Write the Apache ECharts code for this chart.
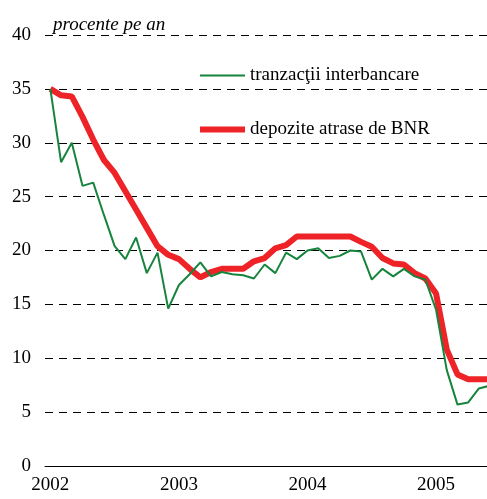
<!DOCTYPE html>
<html>
<head>
<meta charset="utf-8">
<script src="https://cdn.jsdelivr.net/npm/echarts@6/dist/echarts.min.js"></script>
<style>
html, body { margin: 0; padding: 0; background: #fff; }
#main { width: 487px; height: 499px; }
</style>
</head>
<body>
<div id="main"></div>
<script>
// lunile: ian 2002 - iun 2005
const years = [2002, 2003, 2004, 2005];
const months = [];
years.forEach(y => {
    for (let m = 1; m <= 12; m++) {
        if (y === 2005 && m > 6) break;
        months.push(y + '-' + (m < 10 ? '0' + m : m));
    }
});

// rata dobanzii, procente pe an
const interbancare = [35.0, 28.2, 30.0, 26.0, 26.3, 23.3, 20.4, 19.2, 21.2, 17.9, 19.8, 14.6,
    16.8, 17.8, 18.9, 17.6, 18.0, 17.8, 17.7, 17.4, 18.7, 17.9, 19.8, 19.2,
    20.0, 20.2, 19.3, 19.5, 20.0, 19.9, 17.3, 18.3, 17.6, 18.3, 17.6, 17.3,
    14.5, 8.9, 5.7, 5.9, 7.2, 7.45];
const depoziteBNR = [35.0, 34.4, 34.3, 32.4, 30.3, 28.4, 27.2, 25.5, 23.8, 22.1, 20.4, 19.6,
    19.2, 18.3, 17.5, 18.0, 18.3, 18.3, 18.3, 19.0, 19.3, 20.2, 20.5, 21.3,
    21.3, 21.3, 21.3, 21.3, 21.3, 20.8, 20.35, 19.3, 18.8, 18.7, 17.9, 17.4,
    16.0, 10.8, 8.5, 8.05, 8.05, 8.05];

const yTicks = { min: 0, max: 40, step: 5 };
const serif = 'Liberation Serif';

let myChart = echarts.init(document.getElementById('main'));
myChart.setOption({
    animation: false,
    title: {
        text: 'procente pe an',
        left: 48,
        top: 10,
        textStyle: { fontFamily: serif, fontStyle: 'italic', fontWeight: 'normal', fontSize: 19, color: '#000' }
    },
    legend: [{
        data: ['tranzacţii interbancare'],
        left: 195,
        top: 61,
        icon: 'rect',
        itemWidth: 45,
        itemHeight: 2,
        textStyle: { fontFamily: serif, fontSize: 19, color: '#000' }
    }, {
        data: ['depozite atrase de BNR'],
        left: 195,
        top: 115,
        icon: 'rect',
        itemWidth: 45,
        itemHeight: 6,
        textStyle: { fontFamily: serif, fontSize: 19, color: '#000' }
    }],
    grid: {
        left: 45,
        right: -8,
        top: 35,
        bottom: 33,
        outerBoundsMode: 'none'
    },
    xAxis: {
        type: 'category',
        data: months,
        boundaryGap: true,
        axisLine: { lineStyle: { color: '#000', width: 1 } },
        axisTick: { interval: 11, length: 6, lineStyle: { color: '#000' } },
        axisLabel: {
            interval: 11,
            margin: 10,
            fontFamily: serif,
            fontSize: 19,
            color: '#000',
            formatter: v => v.slice(0, 4)
        }
    },
    yAxis: {
        type: 'value',
        min: yTicks.min,
        max: yTicks.max,
        interval: yTicks.step,
        axisLine: { show: false },
        axisTick: { show: false },
        axisLabel: { margin: 14, fontFamily: serif, fontSize: 19, color: '#000' },
        splitLine: { lineStyle: { color: '#000', width: 1, type: [8, 6] } }
    },
    series: [{
        name: 'depozite atrase de BNR',
        type: 'line',
        data: depoziteBNR,
        symbol: 'none',
        color: '#ee2327',
        lineStyle: { width: 6, color: '#ee2327' }
    }, {
        name: 'tranzacţii interbancare',
        type: 'line',
        data: interbancare,
        symbol: 'none',
        color: '#17843d',
        lineStyle: { width: 2, color: '#17843d' }
    }]
});
</script>
</body>
</html>
